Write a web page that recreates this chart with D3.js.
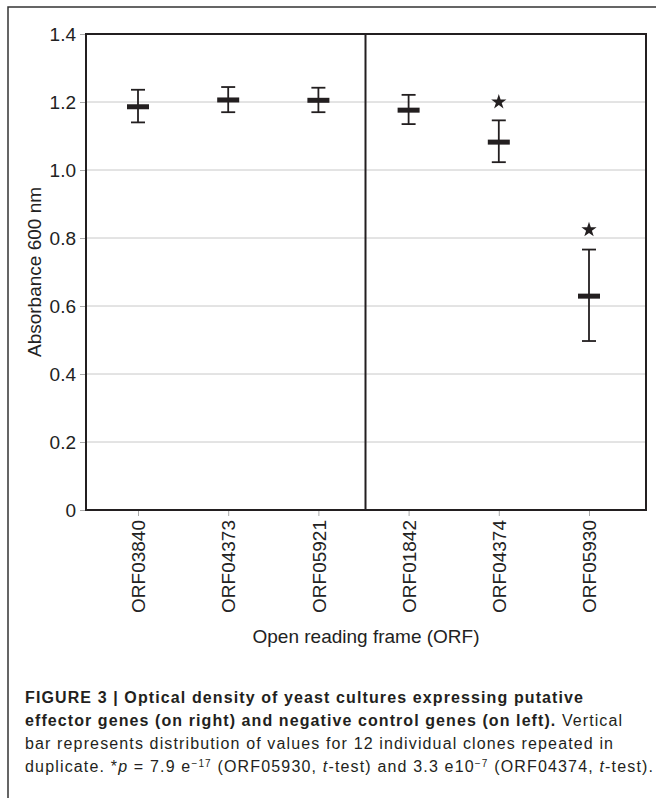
<!DOCTYPE html>
<html>
<head>
<meta charset="utf-8">
<script src="https://cdn.jsdelivr.net/npm/d3@7"></script>
<style>
  body { margin: 0; background: #fff; }
  svg { display: block; }
  .tick-label { font-family: "Liberation Sans", Arial, sans-serif; font-size: 19px; fill: #222; }
  .caption { font-family: "Liberation Sans Narrow", "Arial Narrow", "Liberation Sans", sans-serif; font-size: 16px; fill: #231f20; }
</style>
</head>
<body>
<div id="chart"></div>
<script>
// data
const orfs = ["ORF03840", "ORF04373", "ORF05921", "ORF01842", "ORF04374", "ORF05930"];
const means = [1.186, 1.206, 1.205, 1.176, 1.082, 0.629];
const upper = [1.236, 1.244, 1.242, 1.221, 1.146, 0.766];
const lower = [1.140, 1.170, 1.170, 1.135, 1.023, 0.497];
const starred = ["ORF04374", "ORF05930"];
const starAt = [1.200, 0.824];
const yTicks = [0, 0.2, 0.4, 0.6, 0.8, 1.0, 1.2, 1.4];

const width = 656, height = 798;
const plot = {left: 86, right: 646, top: 34, bottom: 510};
const ink = "#231f20";

const svg = d3.select("#chart")
  .append("svg")
  .attr("width", width)
  .attr("height", height);

// outer figure frame (only top/left visible in the crop)
svg.append("rect")
  .attr("x", 8).attr("y", 7)
  .attr("width", 700).attr("height", 900)
  .attr("fill", "none")
  .attr("stroke", "#333")
  .attr("stroke-width", 1.5);

const x = d3.scalePoint()
  .domain(orfs)
  .range([138, 589]);

const y = d3.scaleLinear()
  .domain([0, 1.4])
  .range([plot.bottom, plot.top]);

// gridlines
svg.append("g")
  .selectAll("line")
  .data(yTicks.filter(t => t > 0 && t < 1.4))
  .join("line")
    .attr("x1", plot.left).attr("x2", plot.right)
    .attr("y1", d => y(d)).attr("y2", d => y(d))
    .attr("stroke", "#c8c8c8")
    .attr("stroke-width", 1);

// y axis: small grey ticks + labels
const yAxis = svg.append("g")
  .attr("transform", `translate(${plot.left},0)`)
  .call(d3.axisLeft(y).tickValues(yTicks).tickSize(6).tickPadding(4)
    .tickFormat(d => d === 0 ? "0" : d3.format(".1f")(d)));
yAxis.select(".domain").remove();
yAxis.selectAll(".tick line").attr("stroke", "#aaa");
yAxis.selectAll(".tick text").attr("class", "tick-label").attr("font-size", null).attr("font-family", null);

// x axis: grey ticks + rotated labels
const xAxis = svg.append("g")
  .attr("transform", `translate(0,${plot.bottom})`)
  .call(d3.axisBottom(x).tickSize(6));
xAxis.select(".domain").remove();
xAxis.selectAll(".tick line").attr("stroke", "#aaa");
xAxis.selectAll(".tick text")
  .attr("class", "tick-label")
  .attr("font-size", null).attr("font-family", null)
  .attr("transform", "rotate(-90)")
  .attr("x", -10)
  .attr("y", 0)
  .attr("dy", "0.35em")
  .attr("text-anchor", "end");

// plot frame and divider between control and effector genes
svg.append("rect")
  .attr("x", plot.left).attr("y", plot.top)
  .attr("width", plot.right - plot.left)
  .attr("height", plot.bottom - plot.top)
  .attr("fill", "none")
  .attr("stroke", ink)
  .attr("stroke-width", 2);

const divX = (x(orfs[2]) + x(orfs[3])) / 2 + 2;
svg.append("line")
  .attr("x1", divX).attr("x2", divX)
  .attr("y1", plot.top).attr("y2", plot.bottom)
  .attr("stroke", ink)
  .attr("stroke-width", 2);

// error bars
const rows = orfs.map((o, i) => ({orf: o, mean: means[i], hi: upper[i], lo: lower[i]}));
const eb = svg.append("g").selectAll("g")
  .data(rows)
  .join("g")
    .attr("transform", d => `translate(${x(d.orf)},0)`);

eb.append("line")
  .attr("y1", d => y(d.hi)).attr("y2", d => y(d.lo))
  .attr("stroke", ink).attr("stroke-width", 1.8);
eb.append("line")
  .attr("x1", -7).attr("x2", 7)
  .attr("y1", d => y(d.hi)).attr("y2", d => y(d.hi))
  .attr("stroke", ink).attr("stroke-width", 1.8);
eb.append("line")
  .attr("x1", -7).attr("x2", 7)
  .attr("y1", d => y(d.lo)).attr("y2", d => y(d.lo))
  .attr("stroke", ink).attr("stroke-width", 1.8);
eb.append("rect")
  .attr("x", -11).attr("width", 22)
  .attr("y", d => y(d.mean) - 2.5).attr("height", 5)
  .attr("fill", ink);

// significance stars
svg.append("g").selectAll("path")
  .data(starred.map((o, i) => ({orf: o, v: starAt[i]})))
  .join("path")
    .attr("d", d3.symbol(d3.symbolStar, 72))
    .attr("transform", d => `translate(${x(d.orf)},${y(d.v)})`)
    .attr("fill", ink);

// axis titles
svg.append("text")
  .attr("class", "tick-label")
  .attr("transform", `translate(41,${(plot.top + plot.bottom) / 2}) rotate(-90)`)
  .attr("text-anchor", "middle")
  .text("Absorbance 600 nm");

svg.append("text")
  .attr("class", "tick-label")
  .attr("x", (plot.left + plot.right) / 2)
  .attr("y", 643)
  .attr("text-anchor", "middle")
  .text("Open reading frame (ORF)");

// caption
const capX = 25;
const capLines = [
  {y: 703, w: 558, parts: [{t: "FIGURE 3 | Optical density of yeast cultures expressing putative", b: true}]},
  {y: 726, w: 597, parts: [{t: "effector genes (on right) and negative control genes (on left).", b: true}, {t: " Vertical"}]},
  {y: 749, w: 588, parts: [{t: "bar represents distribution of values for 12 individual clones repeated in"}]},
  {y: 772, w: 628, parts: [
    {t: "duplicate. *"}, {t: "p", i: true}, {t: " = 7.9 e"}, {t: "−17", sup: true},
    {t: " (ORF05930, "}, {t: "t", i: true}, {t: "-test) and 3.3 e10"}, {t: "−7", sup: true},
    {t: " (ORF04374, "}, {t: "t", i: true}, {t: "-test)."}
  ]}
];

capLines.forEach(line => {
  const txt = svg.append("text")
    .attr("class", "caption")
    .attr("x", capX)
    .attr("y", line.y);
  line.parts.forEach(p => {
    const ts = txt.append("tspan").text(p.t);
    if (p.b) ts.attr("font-weight", "bold");
    if (p.i) ts.attr("font-style", "italic");
    if (p.sup) ts.attr("font-size", "10px").attr("baseline-shift", "super");
  });
  // stretch to the measured line length
  const len = txt.node().getComputedTextLength();
  const n = line.parts.map(p => p.t).join("").length;
  txt.attr("letter-spacing", ((line.w - len) / (n - 1)).toFixed(3) + "px");
});
</script>
</body>
</html>
